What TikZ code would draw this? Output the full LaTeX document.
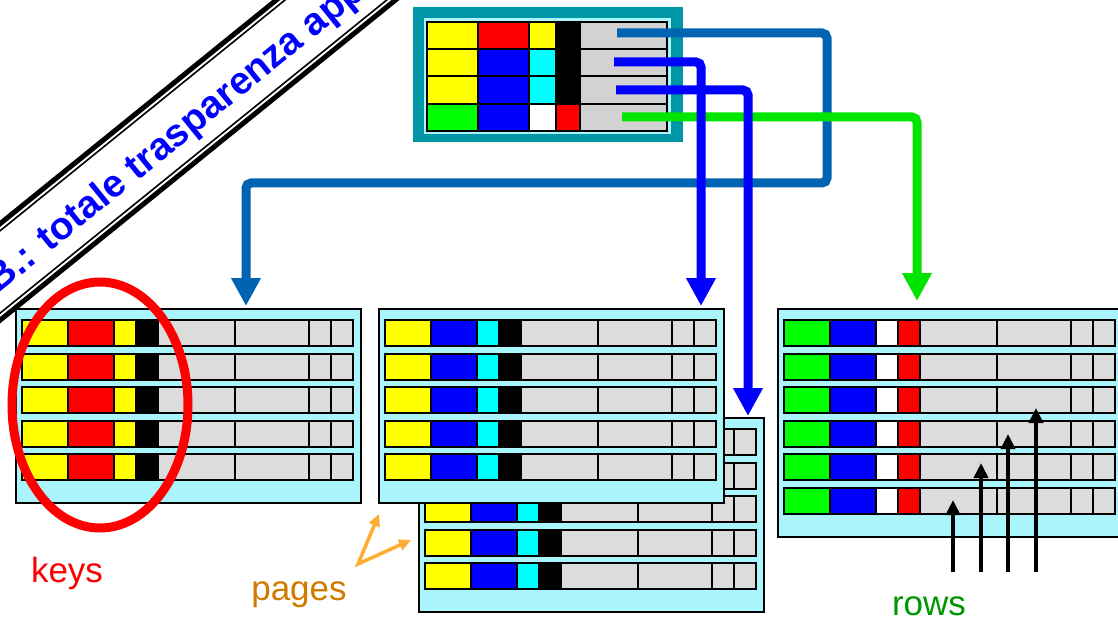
\documentclass[tikz,border=0pt]{standalone}
\usepackage{fontspec}
\setmainfont{Liberation Sans}
\usetikzlibrary{arrows.meta}

\definecolor{kyellow}{RGB}{255,255,0}
\definecolor{kred}{RGB}{255,0,0}
\definecolor{kblue}{RGB}{0,0,255}
\definecolor{kcyan}{RGB}{0,255,255}
\definecolor{kgreen}{RGB}{0,255,0}
\definecolor{cellgray}{RGB}{220,220,220}
\definecolor{idxgray}{RGB}{210,210,210}
\definecolor{pagebg}{RGB}{170,245,252}
\definecolor{idxteal}{RGB}{0,150,165}
\definecolor{linkdark}{RGB}{0,100,178}
\definecolor{linkgreen}{RGB}{0,228,0}
\definecolor{pageorange}{RGB}{255,172,50}
\definecolor{pagetext}{RGB}{210,122,0}
\definecolor{rowtext}{RGB}{0,150,0}
\definecolor{bannerblue}{RGB}{0,0,255}

% one data page: #1 name, #2/#3 top-left corner, #4 number of rows,
% #5-#8 colours of the four key fields
\newcommand\drawpage[8]{%
  \pgfmathsetmacro\pageh{12+#4*33.5+14.5}
  \node[pagebox, minimum width=345pt, minimum height=\pageh pt] (#1) at (#2,#3) {};
  \foreach \rw in {1,...,#4}{%
    \pgfmathsetmacro\ry{#3+12+(\rw-1)*33.5}
    \fill[cellgray] (#2+143,\ry) rectangle (#2+338,\ry+26);
    \fill[#5] (#2+7,\ry) rectangle (#2+53,\ry+26);
    \fill[#6] (#2+53,\ry) rectangle (#2+99,\ry+26);
    \fill[#7] (#2+99,\ry) rectangle (#2+121,\ry+26);
    \fill[#8] (#2+121,\ry) rectangle (#2+143,\ry+26);
    \draw[cellline] (#2+7,\ry) rectangle (#2+338,\ry+26);
    \foreach \cx in {53,99,121,143,220,294,316}
      \draw[cellline] (#2+\cx,\ry) -- (#2+\cx,\ry+26);
  }%
}

\begin{document}
\begin{tikzpicture}[x=1pt,y=-1pt,
  cellline/.style={draw=black, line width=2pt},
  pagebox/.style={rectangle, draw=black, line width=2pt, fill=pagebg,
    inner sep=0pt, anchor=north west},
  link/.style={line width=9pt, rounded corners=5pt,
    -{Triangle[length=28pt,width=28pt]}},
  rowarrow/.style={line width=4.5pt, -{Triangle[length=15pt,width=14pt]}},
  pagearrow/.style={draw=pageorange, line width=3.5pt,
    {Triangle[length=12pt,width=11pt]}-{Triangle[length=12pt,width=11pt]}},
  caption/.style={font=\fontsize{35}{40}\selectfont, inner sep=0pt, anchor=base},
  bannertext/.style={font=\fontsize{38.5}{42}\selectfont\bfseries,
    text=bannerblue, inner sep=0pt, anchor=base west, transform shape}]
\useasboundingbox (0,0) rectangle (1118,620);
\clip (0,0) rectangle (1118,620);

% diagonal banner with a double frame
\begin{scope}[shift={(0,272)}, rotate=39, y=1pt]
  \fill[white] (-150,-40) rectangle (700,40);
  \draw[line width=5pt] (-150,-37.5) rectangle (700,37.5);
  \draw[line width=1.6pt] (-150,-32) rectangle (700,32);
  \node[bannertext] (banner) at (-15,-16) {B.: totale trasparenza app};
\end{scope}

% index
\fill[idxteal] (413,7) rectangle (683,142);
\fill[pagebg] (424,18) rectangle (671,134);
\foreach \ry/\ca/\cb/\cc/\cd in {22/kyellow/kred/kyellow/black,
    49.25/kyellow/kblue/kcyan/black,
    76.5/kyellow/kblue/kcyan/black,
    103.75/kgreen/kblue/white/kred}{
  \fill[idxgray] (580,\ry) rectangle (667,\ry+27.25);
  \fill[\ca] (427,\ry) rectangle (478,\ry+27.25);
  \fill[\cb] (478,\ry) rectangle (529,\ry+27.25);
  \fill[\cc] (529,\ry) rectangle (556,\ry+27.25);
  \fill[\cd] (556,\ry) rectangle (580,\ry+27.25);
}
\draw[cellline] (427,22) rectangle (667,131);
\foreach \ry in {49.25,76.5,103.75} \draw[cellline] (427,\ry) -- (667,\ry);
\foreach \cx in {478,529,556,580} \draw[cellline] (\cx,22) -- (\cx,131);

% data pages
\drawpage{lpage}{15}{308}{5}{kyellow}{kred}{kyellow}{black}
\drawpage{mback}{418}{417}{5}{kyellow}{kblue}{kcyan}{black}
\drawpage{mfront}{378}{308}{5}{kyellow}{kblue}{kcyan}{black}
\drawpage{rpage}{777}{308}{6}{kgreen}{kblue}{white}{kred}

% key columns
\draw[kred, line width=9pt] (100,405) ellipse [x radius=88, y radius=123];

% index entries pointing to pages
\coordinate (i1) at (617,33);
\coordinate (i2) at (614,62);
\coordinate (i3) at (616,90);
\coordinate (i4) at (622,117);
\coordinate (t1) at (246,306);
\coordinate (t2) at (701,306);
\coordinate (t3) at (748,416);
\coordinate (t4) at (917,301);
\draw[link, linkdark] (i1) -- (827,33) -- (827,183) -- (246,183) -- (t1);
\draw[link, linkgreen] (i4) -| (t4);
\draw[link, kblue] (i2) -| (t2);
\draw[link, kblue] (i3) -| (t3);

% rows
\foreach \k/\bx/\ty in {1/953/500, 2/981/463, 3/1008/434, 4/1036/408}{
  \coordinate (rb\k) at (\bx,572);
  \coordinate (rt\k) at (\bx,\ty);
  \draw[rowarrow] (rb\k) -- (rt\k);
}

% pages pointer
\coordinate (pv) at (358,564);
\coordinate (pa) at (379,514);
\coordinate (pb) at (411,540);
\draw[pagearrow] (pa) -- (pv) -- (pb);

% captions
\node[caption, text=kred] (keys) at (67,582) {keys};
\node[caption, text=pagetext] (pages) at (299,600) {pages};
\node[caption, text=rowtext] (rows) at (929,615) {rows};
\end{tikzpicture}
\end{document}
